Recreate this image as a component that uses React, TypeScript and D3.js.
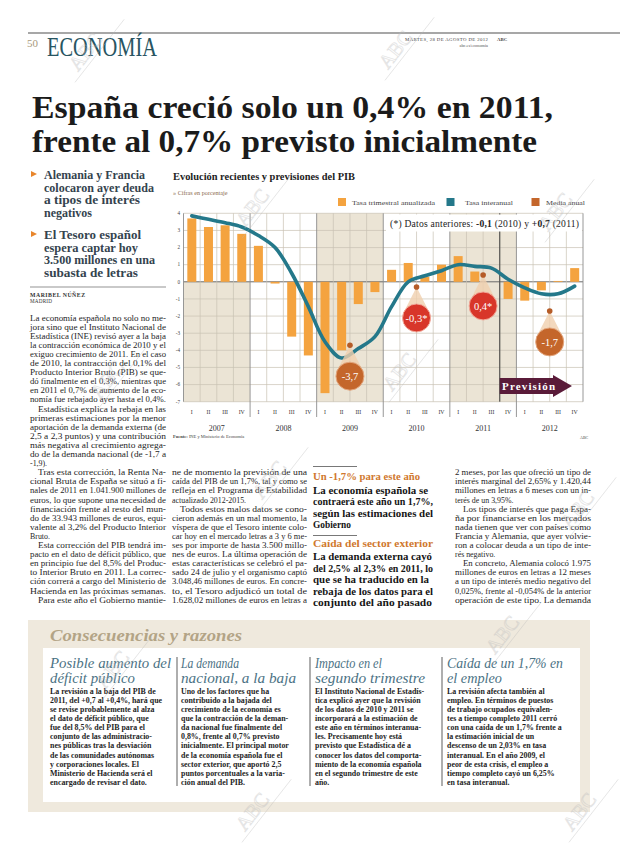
import React from "react";
import * as d3 from "d3";

// ---------- DATA ----------
const years = ["2007", "2008", "2009", "2010", "2011", "2012"];
const quarterLabels = ["I", "II", "III", "IV"];
// Tasa trimestral anualizada (%), one value per quarter 2007-I .. 2012-IV
const trimestral = [3.7, 3.2, 3.3, 2.8, 2.1, -0.1, -3.2, -4.3, -6.5, -4.0, -1.3, -0.6, 0.7, 1.1, 0.3, 1.0, 1.5, 0.6, 0.0, -1.0, -1.1, -0.5, 0.05, 0.8];
// Tasa interanual (%)
const interanual = [3.85, 3.65, 3.45, 3.2, 2.7, 2.0, 0.5, -1.45, -3.5, -4.45, -3.9, -3.2, -1.45, 0.0, 0.35, 0.65, 1.0, 0.9, 0.8, 0.15, -0.35, -0.7, -0.7, -0.25];
// Media anual
const mediaYears = ["2009", "2010", "2011", "2012"];
const mediaValues = [-3.7, -0.3, 0.4, -1.7];
const mediaLabels = ["-3,7", "-0,3*", "0,4*", "-1,7"];
const mediaRevised = [false, true, true, false];
const yTicks = [4, 3, 2, 1, 0, -1, -2, -3, -4, -5, -6, -7];
const forecastStartQuarter = 19;

const headline = ["España creció solo un 0,4% en 2011,", "frente al 0,7% previsto inicialmente"];
const bullet1 = ["Alemania y Francia", "colocaron ayer deuda", "a tipos de interés", "negativos"];
const bullet2 = ["El Tesoro español", "espera captar hoy", "3.500 millones en una", "subasta de letras"];

const col1Lines = [
  "La economía española no solo no me-",
  "jora sino que el Instituto Nacional de",
  "Estadística (INE) revisó ayer a la baja",
  "la contracción económica de 2010 y el",
  "exiguo crecimiento de 2011. En el caso",
  "de 2010, la contracción del 0,1% del",
  "Producto Interior Bruto (PIB) se que-",
  "dó finalmente en el 0,3%, mientras que",
  "en 2011 el 0,7% de aumento de la eco-",
  "nomía fue rebajado ayer hasta el 0,4%.",
  "\tEstadística explica la rebaja en las",
  "primeras estimaciones por la menor",
  "aportación de la demanda externa (de",
  "2,5 a 2,3 puntos) y una contribución",
  "más negativa al crecimiento agrega-",
  "do de la demanda nacional (de -1,7 a",
  "-1,9).$",
  "\tTras esta corrección, la Renta Na-",
  "cional Bruta de España se situó a fi-",
  "nales de 2011 en 1.041.900 millones de",
  "euros, lo que supone una necesidad de",
  "financiación frente al resto del mun-",
  "do de 33.943 millones de euros, equi-",
  "valente al 3,2% del Producto Interior",
  "Bruto.$",
  "\tEsta corrección del PIB tendrá im-",
  "pacto en el dato de déficit público, que",
  "en principio fue del 8,5% del Produc-",
  "to Interior Bruto en 2011. La correc-",
  "ción correrá a cargo del Ministerio de",
  "Hacienda en las próximas semanas.",
  "\tPara este año el Gobierno mantie-",
];
const col2Lines = [
  "ne de momento la previsión de una",
  "caída del PIB de un 1,7%, tal y como se",
  "refleja en el Programa de Estabilidad",
  "actualizado 2012-2015.$",
  "\tTodos estos malos datos se cono-",
  "cieron además en un mal momento, la",
  "víspera de que el Tesoro intente colo-",
  "car hoy en el mercado letras a 3 y 6 me-",
  "ses por importe de hasta 3.500 millo-",
  "nes de euros. La última operación de",
  "estas características se celebró el pa-",
  "sado 24 de julio y el organismo captó",
  "3.048,46 millones de euros. En concre-",
  "to, el Tesoro adjudicó un total de",
  "1.628,02 millones de euros en letras a",
];
const col4Lines = [
  "2 meses, por las que ofreció un tipo de",
  "interés marginal del 2,65% y 1.420,44",
  "millones en letras a 6 meses con un in-",
  "terés de un 3,95%.$",
  "\tLos tipos de interés que paga Espa-",
  "ña por financiarse en los mercados",
  "nada tienen que ver con países como",
  "Francia y Alemania, que ayer volvie-",
  "ron a colocar deuda a un tipo de inte-",
  "rés negativo.$",
  "\tEn concreto, Alemania colocó 1.975",
  "millones de euros en letras a 12 meses",
  "a un tipo de interés medio negativo del",
  "0,025%, frente al -0,054% de la anterior",
  "operación de este tipo. La demanda",
];
const side1Head = "Un -1,7% para este año";
const side1Lines = ["La economía española se", "contraerá este año un 1,7%,", "según las estimaciones del", "Gobierno"];
const side2Head = "Caída del sector exterior";
const side2Lines = ["La demanda externa cayó", "del 2,5% al 2,3% en 2011, lo", "que se ha traducido en la", "rebaja de los datos para el", "conjunto del año pasado"];

const boxTitle = "Consecuencias y razones";
const boxHeads = [
  ["Posible aumento del", "déficit público"],
  ["La demanda", "nacional, a la baja"],
  ["Impacto en el", "segundo trimestre"],
  ["Caída de un 1,7% en", "el empleo"],
];
const boxBodies = [
  ["La revisión a la baja del PIB de", "2011, del +0,7 al +0,4%, hará que", "se revise probablemente al alza", "el dato de déficit público, que", "fue del 8,5% del PIB para el", "conjunto de las administracio-", "nes públicas tras la desviación", "de las comunidades autónomas", "y corporaciones locales. El", "Ministerio de Hacienda será el", "encargado de revisar el dato."],
  ["Uno de los factores que ha", "contribuido a la bajada del", "crecimiento de la economía es", "que la contracción de la deman-", "da nacional fue finalmente del", "0,8%, frente al 0,7% previsto", "inicialmente. El principal motor", "de la economía española fue el", "sector exterior, que aportó 2,5", "puntos porcentuales a la varia-", "ción anual del PIB."],
  ["El Instituto Nacional de Estadís-", "tica explicó ayer que la revisión", "de los datos de 2010 y 2011 se", "incorporará a la estimación de", "este año en términos interanua-", "les. Precisamente hoy está", "previsto que Estadística dé a", "conocer los datos del comporta-", "miento de la economía española", "en el segundo trimestre de este", "año."],
  ["La revisión afecta también al", "empleo. En términos de puestos", "de trabajo ocupados equivalen-", "tes a tiempo completo 2011 cerró", "con una caída de un 1,7% frente a", "la estimación inicial de un", "descenso de un 2,03% en tasa", "interanual. En el año 2009, el", "peor de esta crisis, el empleo a", "tiempo completo cayó un 6,25%", "en tasa interanual."],
];

// ---------- LAYOUT CONSTANTS ----------
const SERIF = "'Liberation Serif', 'DejaVu Serif', serif";
const ORANGE = "#f4a33f";
const TEAL = "#24788a";
const MEDIA = "#c4662b";
const RED = "#d8362a";
const BEIGE = "#ebe4d5";
const GRID = "#c9c1b3";

function Column({ lines, x, y, lh, w, fs, fw = "normal", fill = "#262626", indent = 8 }: any) {
  return (
    <g fontFamily={SERIF} fontSize={fs} fontWeight={fw} fill={fill}>
      {lines.map((raw: string, i: number) => {
        let s = raw;
        let ind = 0;
        let just = true;
        if (s.startsWith("\t")) { s = s.slice(1); ind = indent; }
        if (s.endsWith("$")) { s = s.slice(0, -1); just = false; }
        const extra: any = just ? { textLength: w - ind, lengthAdjust: "spacingAndGlyphs" } : {};
        return <text key={i} x={x + ind} y={y + i * lh} {...extra}>{s}</text>;
      })}
    </g>
  );
}

function Watermark({ x, y }: { x: number; y: number }) {
  return (
    <g transform={`translate(${x},${y}) rotate(-52)`} opacity={0.4}>
      <line x1={-10} y1={4} x2={70} y2={4} stroke="#b9b9b9" strokeWidth={0.8} />
      <text x={0} y={0} fontFamily={SERIF} fontSize={20} fill="none" stroke="#bdbdbd" strokeWidth={0.8}>ABC</text>
    </g>
  );
}

function Chart() {
  const x = d3.scaleLinear().domain([0, 24]).range([183.5, 583]);
  const y = d3.scaleLinear().domain([4, -7]).range([213.3, 401.7]);
  const barW = 9;
  const line = d3.line<number>().x((_, i) => x(i + 0.5)).y((d) => y(d)).curve(d3.curveCatmullRom.alpha(0.5));
  const yearIdx = (yr: string) => years.indexOf(yr);
  return (
    <g>
      {/* titles */}
      <text x={173} y={180} fontFamily={SERIF} fontWeight="bold" fontSize={10} fill="#222" textLength={182} lengthAdjust="spacingAndGlyphs">Evolución recientes y previsiones del PIB</text>
      <text x={173} y={194.5} fontFamily={SERIF} fontSize={6.2} fill="#8b6a4c">» Cifras en porcentaje</text>
      {/* legend */}
      <rect x={338} y={198} width={8} height={8} fill={ORANGE} />
      <text x={352} y={204.5} fontFamily={SERIF} fontSize={6.3} fill="#444" textLength={83} lengthAdjust="spacingAndGlyphs">Tasa trimestral anualizada</text>
      <rect x={446.5} y={198} width={8} height={8} fill={TEAL} />
      <text x={465} y={204.5} fontFamily={SERIF} fontSize={6.3} fill="#444" textLength={48} lengthAdjust="spacingAndGlyphs">Tasa interanual</text>
      <rect x={531.5} y={198} width={8} height={8} fill={MEDIA} />
      <text x={546} y={204.5} fontFamily={SERIF} fontSize={6.3} fill="#444" textLength={39} lengthAdjust="spacingAndGlyphs">Media anual</text>

      {/* plot background */}
      <rect x={x(0)} y={y(4)} width={x(24) - x(0)} height={y(-7) - y(4)} fill="#fff" />
      <rect x={x(0)} y={y(0)} width={x(4) - x(0)} height={y(-7) - y(0)} fill={BEIGE} />
      {["2009", "2011"].map((yr) => (
        <rect key={yr} x={x(yearIdx(yr) * 4)} y={y(4)} width={x(4) - x(0)} height={y(-7) - y(4)} fill={BEIGE} />
      ))}
      {/* grid */}
      {yTicks.map((t) => (
        <line key={"h" + t} x1={x(0)} x2={x(24)} y1={y(t)} y2={y(t)} stroke={t === 0 ? "#6a6a6a" : GRID} strokeWidth={t === 0 ? 1 : 0.7} />
      ))}
      {d3.range(0, 25).map((i) => (
        <line key={"v" + i} x1={x(i)} x2={x(i)} y1={y(4)} y2={i % 4 === 0 && i > 0 && i < 24 ? 417 : y(-7)} stroke={i % 4 === 0 ? "#8c8c8c" : GRID} strokeWidth={i % 4 === 0 ? 0.9 : 0.7} />
      ))}
      {/* y labels */}
      {yTicks.map((t) => (
        <text key={"yl" + t} x={180} y={y(t) + 1.8} textAnchor="end" fontFamily={SERIF} fontSize={5.2} fill="#444">{t}</text>
      ))}
      {/* bars */}
      {trimestral.map((v, i) => (
        <rect key={"b" + i} x={x(i + 0.5) - barW / 2} y={Math.min(y(v), y(0))} width={barW} height={Math.abs(y(v) - y(0))} fill={ORANGE} />
      ))}
      {/* forecast separator */}
      <line x1={x(forecastStartQuarter)} x2={x(forecastStartQuarter)} y1={y(4)} y2={y(-7)} stroke="#3c3c3c" strokeWidth={1} />
      {/* interanual line */}
      <path d={line(interanual) || ""} fill="none" stroke={TEAL} strokeWidth={3.6} strokeLinecap="round" />
      {/* note box */}
      <rect x={386} y={214.5} width={196} height={17} fill="#fff" />
      <text x={390} y={226.5} fontFamily={SERIF} fontSize={9.6} fill="#222" textLength={189} lengthAdjust="spacing">
        <tspan>(*) Datos anteriores: </tspan>
        <tspan fontWeight="bold">-0,1</tspan>
        <tspan> (2010) y </tspan>
        <tspan fontWeight="bold">+0,7</tspan>
        <tspan> (2011)</tspan>
      </text>
      {/* media anual callouts */}
      {mediaYears.map((yr, k) => {
        const px = x(yearIdx(yr) * 4 + 2);
        const py = y(mediaValues[k]);
        const cy = py + 31;
        const r = 14;
        const col = mediaRevised[k] ? RED : MEDIA;
        return (
          <g key={"m" + yr}>
            <path d={`M${px},${py} L${px - r * 0.93},${cy - r * 0.38} A${r},${r} 0 0 1 ${px + r * 0.93},${cy - r * 0.38} Z`} fill="#f0cfae" opacity={0.8} />
            <circle cx={px} cy={py} r={2.8} fill="#b55c28" />
            <circle cx={px} cy={cy} r={r} fill={col} stroke={mediaRevised[k] ? "#f2a999" : "#e3a57c"} strokeWidth={1} />
            <text x={px} y={cy + 3.6} textAnchor="middle" fontFamily={SERIF} fontSize={10.5} fill="#fff">{mediaLabels[k]}</text>
          </g>
        );
      })}
      {/* prevision arrow */}
      <path d={`M${x(forecastStartQuarter)},378 L553,378 L553,375 L572,386 L553,397 L553,394 L${x(forecastStartQuarter)},394 Z`} fill="#5a1b39" />
      <text x={502} y={390.3} fontFamily={SERIF} fontWeight="bold" fontSize={11} fill="#fff" textLength={53} lengthAdjust="spacing">Previsión</text>
      {/* quarter & year labels */}
      {d3.range(0, 24).map((i) => (
        <text key={"q" + i} x={x(i + 0.5)} y={413.6} textAnchor="middle" fontFamily={SERIF} fontSize={5.8} fill="#333">{quarterLabels[i % 4]}</text>
      ))}
      {years.map((yr, k) => (
        <text key={yr} x={x(k * 4 + 2)} y={431} textAnchor="middle" fontFamily={SERIF} fontSize={8} fill="#333">{yr}</text>
      ))}
      <text x={173} y={438} fontFamily={SERIF} fontSize={4.5} fill="#444"><tspan fontWeight="bold">Fuente:</tspan> INE y Ministerio de Economía</text>
      <text x={580} y={439} fontFamily={SERIF} fontSize={4} fill="#444">ABC</text>
    </g>
  );
}

export default function App() {
  const W = 620;
  const H = 846;
  return (
    <svg width={W} height={H} viewBox={`0 0 ${W} ${H}`} style={{ position: "absolute", left: 0, top: 0, background: "#fff" }}>
      <rect x={0} y={0} width={W} height={H} fill="#fff" />
      {/* header */}
      <line x1={28} x2={620} y1={33} y2={33} stroke="#8a8a8a" strokeWidth={1.3} />
      <text x={27} y={47} fontFamily={SERIF} fontSize={11} fill="#a89a7c">50</text>
      <text x={47} y={56} fontFamily={SERIF} fontSize={27} fill="#285562" textLength={110} lengthAdjust="spacingAndGlyphs">ECONOMÍA</text>
      <text x={405} y={41} fontFamily={SERIF} fontSize={4.8} fill="#444" textLength={83} lengthAdjust="spacing">MARTES, 28 DE AGOSTO DE 2012</text>
      <text x={497} y={41} fontFamily={SERIF} fontSize={4.8} fontWeight="bold" fill="#444">ABC</text>
      <text x={488} y={46.5} textAnchor="end" fontFamily={SERIF} fontSize={4.3} fill="#555">abc.es/economia</text>

      {/* headline */}
      <text x={32} y={118} fontFamily={SERIF} fontWeight="bold" fontSize={31} fill="#1b1b1b" textLength={521} lengthAdjust="spacingAndGlyphs">{headline[0]}</text>
      <text x={32} y={152} fontFamily={SERIF} fontWeight="bold" fontSize={31} fill="#1b1b1b" textLength={505} lengthAdjust="spacingAndGlyphs">{headline[1]}</text>

      {/* bullets */}
      {[bullet1, bullet2].map((b, bi) => {
        const by = bi === 0 ? 179 : 239;
        const widths = bi === 0 ? [101, 110, 96, 48] : [97, 94, 111, 94];
        return (
          <g key={"bl" + bi}>
            <path d={`M31,${by - 8} L37,${by - 5} L31,${by - 2} Z`} fill="#e8862c" />
            {b.map((s, i) => (
              <text key={i} x={44} y={by + i * 12.5} fontFamily={SERIF} fontWeight="bold" fontSize={12.8} fill="#34434e" textLength={widths[i]} lengthAdjust="spacingAndGlyphs">{s}</text>
            ))}
          </g>
        );
      })}
      <line x1={30} x2={166} y1={287} y2={287} stroke="#c9c9c9" strokeWidth={2} />
      <text x={30} y={296.5} fontFamily={SERIF} fontWeight="bold" fontSize={5.8} fill="#333" textLength={55} lengthAdjust="spacing">MARIBEL NÚÑEZ</text>
      <text x={30} y={303} fontFamily={SERIF} fontSize={5.2} fill="#333" textLength={22} lengthAdjust="spacing">MADRID</text>

      {/* body columns */}
      <Column lines={col1Lines} x={30} y={320.5} lh={9.1} w={136} fs={7.9} />
      <Column lines={col2Lines} x={172} y={475.2} lh={9.1} w={135} fs={7.9} />
      <Column lines={col4Lines} x={455} y={475.2} lh={9.1} w={136} fs={7.9} />

      {/* sidebar */}
      <line x1={313} x2={357} y1={466.5} y2={466.5} stroke="#555" strokeWidth={0.8} />
      <text x={313} y={479.5} fontFamily={SERIF} fontWeight="bold" fontSize={9.8} fill="#d0782e" textLength={107} lengthAdjust="spacingAndGlyphs">{side1Head}</text>
      {side1Lines.map((s, i) => (
        <text key={"s1" + i} x={313} y={493.5 + i * 11.5} fontFamily={SERIF} fontWeight="bold" fontSize={10.3} fill="#151515" textLength={[115, 120, 120, 38][i]} lengthAdjust="spacingAndGlyphs">{s}</text>
      ))}
      <line x1={313} x2={357} y1={535.5} y2={535.5} stroke="#555" strokeWidth={0.8} />
      <text x={313} y={547} fontFamily={SERIF} fontWeight="bold" fontSize={9.8} fill="#d0782e" textLength={120} lengthAdjust="spacingAndGlyphs">{side2Head}</text>
      {side2Lines.map((s, i) => (
        <text key={"s2" + i} x={313} y={560 + i * 11.6} fontFamily={SERIF} fontWeight="bold" fontSize={10.3} fill="#151515" textLength={[119, 120, 116, 120, 119][i]} lengthAdjust="spacingAndGlyphs">{s}</text>
      ))}

      <Chart />

      {/* bottom box */}
      <rect x={28} y={620} width={562} height={192} fill="#efe9dd" />
      <text x={50} y={641} fontFamily={SERIF} fontWeight="bold" fontStyle="italic" fontSize={16.5} fill="#b3a486" textLength={192} lengthAdjust="spacingAndGlyphs">{boxTitle}</text>
      <rect x={43} y={648} width={537} height={154} fill="#fff" />
      {[177, 310, 442].map((vx) => (
        <line key={"sep" + vx} x1={vx} x2={vx} y1={657} y2={786} stroke="#9a9a9a" strokeWidth={1.6} />
      ))}
      {boxHeads.map((h, k) => {
        const bx = [50, 181, 315, 447][k];
        const hw = [[121, 85], [58, 115], [67, 110], [116, 55]][k];
        return (
          <g key={"bh" + k}>
            {h.map((s, i) => (
              <text key={i} x={bx} y={668 + i * 15} fontFamily={SERIF} fontStyle="italic" fontSize={14} fill="#4b7284" textLength={hw[i]} lengthAdjust="spacingAndGlyphs">{s}</text>
            ))}
            {boxBodies[k].map((s, i) => (
              <text key={"t" + i} x={bx} y={693.8 + i * 9.1} fontFamily={SERIF} fontWeight="bold" fontSize={7.9} fill="#1e1e1e">{s}</text>
            ))}
          </g>
        );
      })}

      {/* watermarks */}
      {[[78, 72], [388, 70], [245, 228], [548, 232], [392, 392], [100, 400], [262, 500], [570, 530], [105, 690], [495, 655], [245, 832], [572, 832]].map(([wx, wy], i) => (
        <Watermark key={"wm" + i} x={wx} y={wy} />
      ))}
    </svg>
  );
}
